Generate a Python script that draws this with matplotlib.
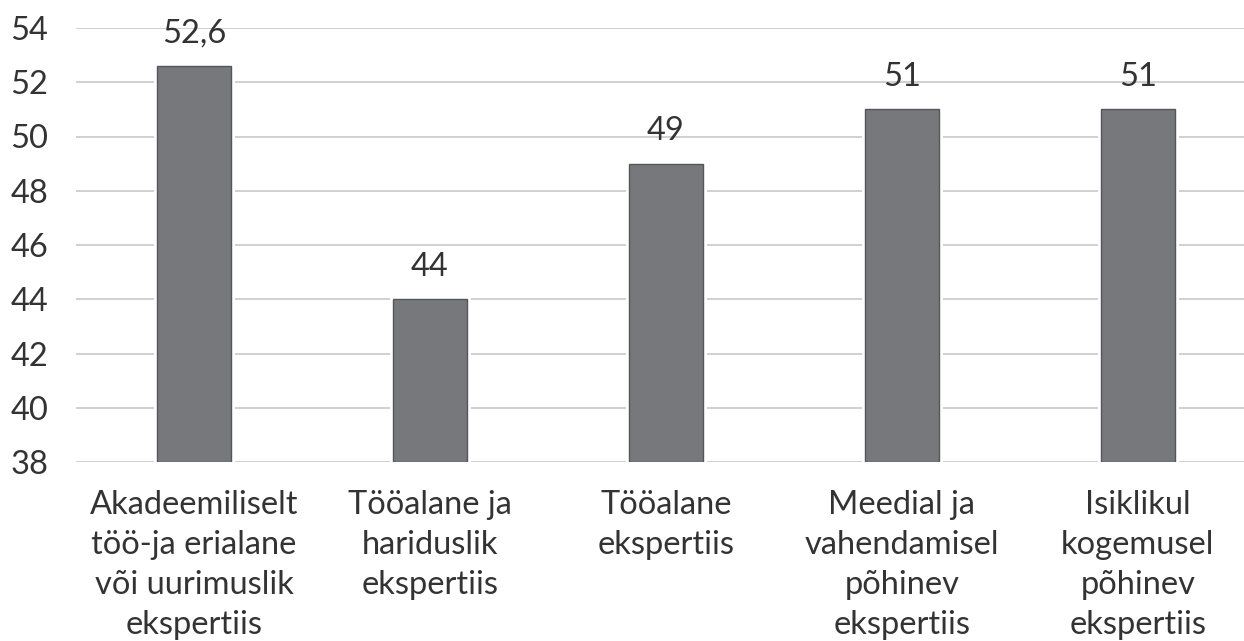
import matplotlib.pyplot as plt

categories = [
    "Akadeemiliselt\ntöö-ja erialane\nvõi uurimuslik\nekspertiis",
    "Tööalane ja\nhariduslik\nekspertiis",
    "Tööalane\nekspertiis",
    "Meedial ja\nvahendamisel\npõhinev\nekspertiis",
    "Isiklikul\nkogemusel\npõhinev\nekspertiis",
]
values = [52.6, 44, 49, 51, 51]
value_labels = ["52,6", "44", "49", "51", "51"]
yticks = [38, 40, 42, 44, 46, 48, 50, 52, 54]

plt.rcParams['font.family'] = ['Lato', 'DejaVu Sans']
txt = '#333333'
fs = 23.5

fig = plt.figure(figsize=(12.44, 6.41), dpi=100)
ax = fig.add_axes([76 / 1244, 1 - 462 / 641, 1 - 76 / 1244, (462 - 28) / 641])

x = list(range(len(values)))
# white halo so gridlines stop short of the bars
ax.bar(x, [v - 38 for v in values], bottom=38, width=0.315, color='none',
       edgecolor='white', linewidth=5, zorder=2)
ax.bar(x, [v - 38 for v in values], bottom=38, width=0.315, color='#77787b',
       edgecolor='#55565a', linewidth=1, zorder=3)

for xi, v, lab in zip(x, values, value_labels):
    ax.text(xi, v + 0.65, lab, ha='center', va='bottom', fontsize=fs,
            color=txt)

ax.set_ylim(38, 54)
ax.set_xlim(-0.5, 4.45)
ax.set_yticks(yticks)
ax.set_yticklabels([str(t) for t in yticks], fontsize=fs, color=txt)
ax.set_xticks(x)
ax.set_xticklabels(categories, fontsize=fs, color=txt, linespacing=1.42)
ax.tick_params(length=0)
ax.tick_params(axis='y', pad=20)
ax.tick_params(axis='x', pad=20)
ax.grid(axis='y', color='#c8c8c8', linewidth=1.2, zorder=0)
ax.set_axisbelow(True)
for s in ax.spines.values():
    s.set_visible(False)

fig.savefig('out.png', dpi=100)
